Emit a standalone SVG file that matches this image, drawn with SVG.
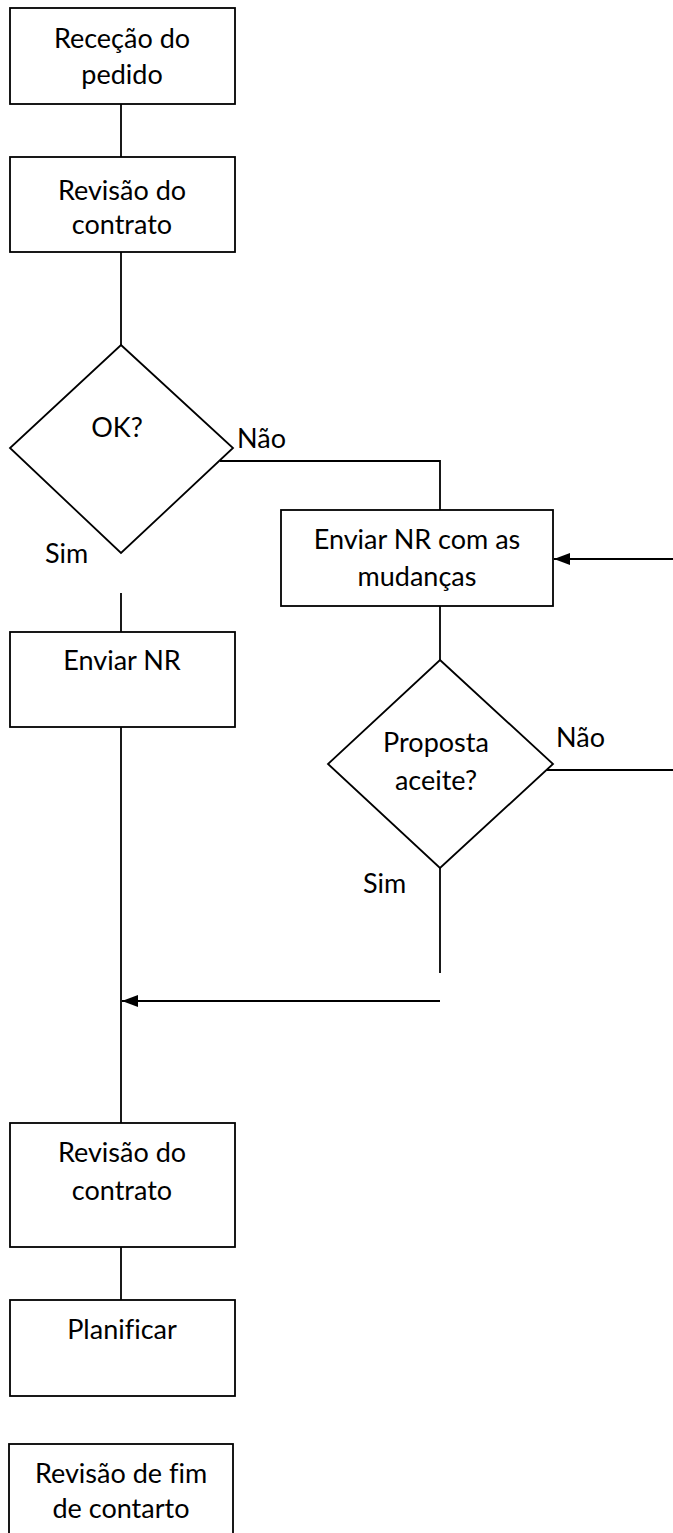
<svg xmlns="http://www.w3.org/2000/svg" width="673" height="1533" viewBox="0 0 673 1533">
  <style>
    .box { fill: #ffffff; stroke: #000000; stroke-width: 1.8; }
    .edge { fill: none; stroke: #000000; stroke-width: 1.8; }
    .lbl { font-family: Lato, "Liberation Sans", sans-serif; font-size: 27px; fill: #000000; text-anchor: middle; font-variant-ligatures: none; }
    .note { font-family: Lato, "Liberation Sans", sans-serif; font-size: 27px; fill: #000000; font-variant-ligatures: none; }
  </style>
  <defs>
    <marker id="head" viewBox="0 0 16 12" refX="16" refY="6" markerWidth="16" markerHeight="12" markerUnits="userSpaceOnUse" orient="auto">
      <path d="M0,0 L16,6 L0,12 Z" fill="#000000"/>
    </marker>
  </defs>

  <!-- connectors -->
  <g id="connectors">
    <line class="edge" x1="121" y1="104" x2="121" y2="157"/>
    <line class="edge" x1="121" y1="252" x2="121" y2="345"/>
    <polyline class="edge" points="220,461 440,461 440,510"/>
    <line class="edge" x1="673" y1="559" x2="554" y2="559" marker-end="url(#head)"/>
    <line class="edge" x1="440" y1="606" x2="440" y2="660"/>
    <line class="edge" x1="547" y1="770" x2="673" y2="770"/>
    <line class="edge" x1="440" y1="868" x2="440" y2="973"/>
    <line class="edge" x1="440" y1="1001" x2="122" y2="1001" marker-end="url(#head)"/>
    <line class="edge" x1="121" y1="593" x2="121" y2="632"/>
    <line class="edge" x1="121" y1="727" x2="121" y2="1123"/>
    <line class="edge" x1="121" y1="1247" x2="121" y2="1300"/>
  </g>

  <!-- branch labels -->
  <g id="labels">
    <text class="note" x="237" y="448">Não</text>
    <text class="note" x="45" y="563">Sim</text>
    <text class="note" x="556" y="747">Não</text>
    <text class="note" x="363" y="893">Sim</text>
  </g>

  <g id="rececao">
    <rect class="box" x="10" y="8" width="225" height="96"/>
    <text class="lbl" x="122" y="48">Receção do</text>
    <text class="lbl" x="122" y="84">pedido</text>
  </g>

  <g id="revisao1">
    <rect class="box" x="10" y="157" width="225" height="95"/>
    <text class="lbl" x="122" y="200">Revisão do</text>
    <text class="lbl" x="122" y="234">contrato</text>
  </g>

  <g id="ok">
    <polygon class="box" points="121,345 233,448 121,553 10,448"/>
    <text class="lbl" x="117" y="437">OK?</text>
  </g>

  <g id="enviar-mudancas">
    <rect class="box" x="281" y="510" width="272" height="96"/>
    <text class="lbl" x="417" y="549">Enviar NR com as</text>
    <text class="lbl" x="417" y="586">mudanças</text>
  </g>

  <g id="enviar-nr">
    <rect class="box" x="10" y="632" width="225" height="95"/>
    <text class="lbl" x="122" y="670">Enviar NR</text>
  </g>

  <g id="proposta">
    <polygon class="box" points="440,660 553,764 440,868 328,764"/>
    <text class="lbl" x="436" y="752">Proposta</text>
    <text class="lbl" x="436" y="790">aceite?</text>
  </g>

  <g id="revisao2">
    <rect class="box" x="10" y="1123" width="225" height="124"/>
    <text class="lbl" x="122" y="1162">Revisão do</text>
    <text class="lbl" x="122" y="1200">contrato</text>
  </g>

  <g id="planificar">
    <rect class="box" x="10" y="1300" width="225" height="96"/>
    <text class="lbl" x="122" y="1339">Planificar</text>
  </g>

  <g id="revisao-fim">
    <rect class="box" x="9" y="1444" width="224" height="100"/>
    <text class="lbl" x="121" y="1483">Revisão de fim</text>
    <text class="lbl" x="121" y="1518">de contarto</text>
  </g>
</svg>
